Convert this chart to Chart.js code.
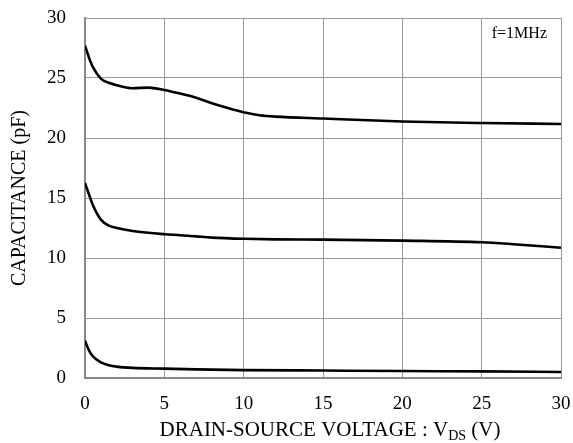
<!DOCTYPE html>
<html>
<head>
<meta charset="utf-8">
<script src="https://cdn.jsdelivr.net/npm/chart.js@4"></script>
<style>
html,body{margin:0;padding:0;background:#fff;}
#wrap{width:573px;height:443px;}
</style>
</head>
<body>
<div id="wrap"><canvas id="c" width="573" height="443"></canvas></div>
<script>
// Drain-source voltage (V) sample points for each curve
const vdsTop = [0, 0.25, 0.5, 1, 1.5, 2, 3, 4, 5, 6, 7, 8, 9, 10, 11, 12, 15, 20, 25, 30];
const cissValues = [27.7, 26.7, 25.9, 24.95, 24.6, 24.4, 24.15, 24.2, 24.0, 23.7, 23.35, 22.9, 22.5, 22.15, 21.9, 21.78, 21.62, 21.38, 21.25, 21.17];

const vdsMid = [0, 0.25, 0.5, 1, 1.5, 2, 3, 5, 6, 7, 8, 10, 12, 15, 20, 25, 27, 30];
const cossValues = [16.25, 15.3, 14.4, 13.2, 12.7, 12.5, 12.25, 11.98, 11.9, 11.8, 11.7, 11.6, 11.55, 11.53, 11.45, 11.31, 11.15, 10.86];

const vdsBot = [0, 0.25, 0.5, 1, 1.5, 2, 3, 5, 7, 10, 15, 20, 25, 30];
const crssValues = [3.1, 2.3, 1.8, 1.3, 1.07, 0.95, 0.84, 0.78, 0.72, 0.66, 0.62, 0.58, 0.55, 0.5];

const xTicks = [0, 5, 10, 15, 20, 25, 30];
const yTicks = [0, 5, 10, 15, 20, 25, 30];

const xTitleMain = 'DRAIN-SOURCE VOLTAGE : V';
const xTitleSub = 'DS';
const xTitleEnd = ' (V)';
const yTitle = 'CAPACITANCE (pF)';
const note = 'f=1MHz';

const FONT = '"Liberation Serif", "Times New Roman", serif';

function pts(xs, ys){ return xs.map((x,i)=>({x:x, y:ys[i]})); }

const lineStyle = {
  borderColor:'#000', borderWidth:2.6, pointRadius:0, fill:false,
  cubicInterpolationMode:'monotone', showLine:true
};

const titlesPlugin = {
  id:'titles',
  afterDraw(chart){
    const ctx = chart.ctx;
    const a = chart.chartArea;
    ctx.save();
    ctx.fillStyle = '#000';
    // x axis title with subscript
    const mainF = '21px ' + FONT, subF = '14px ' + FONT;
    ctx.font = mainF;
    const w1 = ctx.measureText(xTitleMain).width;
    const w3 = ctx.measureText(xTitleEnd).width;
    ctx.font = subF;
    const w2 = ctx.measureText(xTitleSub).width;
    const total = w1 + w2 + w3;
    let x = (a.left + a.right)/2 + 7 - total/2;
    const yb = 436;
    ctx.textBaseline = 'alphabetic';
    ctx.textAlign = 'left';
    ctx.font = mainF; ctx.fillText(xTitleMain, x, yb); x += w1;
    ctx.font = subF; ctx.fillText(xTitleSub, x, yb + 4); x += w2;
    ctx.font = mainF; ctx.fillText(xTitleEnd, x, yb);
    // y title
    ctx.save();
    ctx.translate(25, (a.top + a.bottom)/2);
    ctx.rotate(-Math.PI/2);
    ctx.textAlign = 'center';
    ctx.font = '20px ' + FONT;
    ctx.fillText(yTitle, 0, 0);
    ctx.restore();
    // note
    ctx.font = '16px ' + FONT;
    ctx.textAlign = 'right';
    ctx.fillText(note, a.right - 14, a.top + 20);
    ctx.restore();
  }
};

new Chart(document.getElementById('c'), {
  type:'scatter',
  data:{
    datasets:[
      Object.assign({label:'Ciss', data:pts(vdsTop, cissValues)}, lineStyle),
      Object.assign({label:'Coss', data:pts(vdsMid, cossValues)}, lineStyle),
      Object.assign({label:'Crss', data:pts(vdsBot, crssValues)}, lineStyle)
    ]
  },
  options:{
    responsive:false, animation:false,
    layout:{padding:{top:18, right:12, left:0, bottom:0}},
    plugins:{legend:{display:false}, tooltip:{enabled:false}},
    scales:{
      x:{
        type:'linear', min:0, max:30,
        afterBuildTicks(s){ s.ticks = xTicks.map(v=>({value:v})); },
        afterFit(s){ s.height = 65; s.paddingLeft = 0; s.paddingRight = 0; },
        grid:{color:'#999', lineWidth:1, drawTicks:false},
        border:{color:'#888', width:2},
        ticks:{color:'#000', font:{family:FONT, size:19}, padding:15, maxRotation:0}
      },
      y:{
        type:'linear', min:0, max:30,
        afterBuildTicks(s){ s.ticks = yTicks.map(v=>({value:v})); },
        afterFit(s){ s.width = 85; s.paddingTop = 0; s.paddingBottom = 0; },
        grid:{color:'#999', lineWidth:1, drawTicks:false},
        border:{color:'#888', width:2},
        ticks:{color:'#000', font:{family:FONT, size:19}, padding:19}
      }
    }
  },
  plugins:[titlesPlugin]
});
</script>
</body>
</html>
